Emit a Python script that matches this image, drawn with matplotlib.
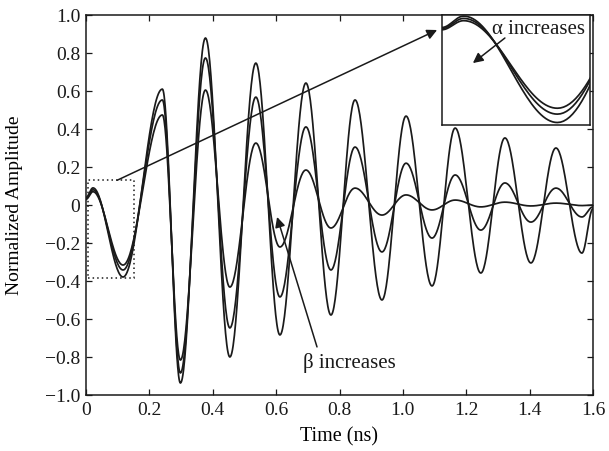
import numpy as np
import matplotlib
matplotlib.use("Agg")
import matplotlib.pyplot as plt
from matplotlib.patches import Rectangle

plt.rcParams['font.family'] = ['Liberation Serif', 'DejaVu Serif']

# Extremum times (ns), with start and end points
t_ext = [0.0, 0.022, 0.117, 0.241, 0.298, 0.377, 0.454, 0.536, 0.612, 0.694,
         0.773, 0.849, 0.934, 1.010, 1.092, 1.165, 1.246, 1.322, 1.404,
         1.483, 1.565, 1.6]
# Amplitudes at those times for the three curves
amp_1 = [0.04, 0.09, -0.379, 0.61, -0.937, 0.879, -0.80, 0.747, -0.684, 0.642,
         -0.579, 0.553, -0.50, 0.468, -0.426, 0.405, -0.358, 0.353, -0.305,
         0.30, -0.253, -0.02]
amp_2 = [0.035, 0.08, -0.342, 0.553, -0.884, 0.774, -0.647, 0.568, -0.484, 0.411,
         -0.342, 0.305, -0.247, 0.22, -0.174, 0.158, -0.132, 0.116, -0.09,
         0.089, -0.063, -0.01]
amp_3 = [0.03, 0.07, -0.316, 0.474, -0.816, 0.605, -0.432, 0.326, -0.221, 0.184,
         -0.121, 0.089, -0.053, 0.053, -0.026, 0.026, -0.01, 0.015, -0.005,
         0.01, -0.003, 0.0]

x_ticks = [0, 0.2, 0.4, 0.6, 0.8, 1.0, 1.2, 1.4, 1.6]
x_tick_labels = ["0", "0.2", "0.4", "0.6", "0.8", "1.0", "1.2", "1.4", "1.6"]
y_ticks = [-1.0, -0.8, -0.6, -0.4, -0.2, 0, 0.2, 0.4, 0.6, 0.8, 1.0]
y_tick_labels = ["\u22121.0", "\u22120.8", "\u22120.6", "\u22120.4", "\u22120.2", "0",
                 "0.2", "0.4", "0.6", "0.8", "1.0"]


def smooth_through(tk, yk, n=40):
    """Draw a smooth line through extrema using half-cosine segments."""
    xs, ys = [], []
    for i in range(len(tk) - 1):
        s = np.linspace(0, 1, n, endpoint=False)
        w = (1 - np.cos(np.pi * s)) / 2
        xs.append(tk[i] + (tk[i + 1] - tk[i]) * s)
        ys.append(yk[i] + (yk[i + 1] - yk[i]) * w)
    xs.append([tk[-1]])
    ys.append([yk[-1]])
    return np.concatenate(xs), np.concatenate(ys)


fig = plt.figure(figsize=(6.09, 4.51), dpi=100)
ax = fig.add_axes([86 / 609, 1 - 395 / 451, 507 / 609, 380 / 451])

col = '#1a1a1a'
curves = [smooth_through(t_ext, a) for a in (amp_1, amp_2, amp_3)]
for xs, ys in curves:
    ax.plot(xs, ys, color=col, lw=1.25)

ax.set_xlim(0, 1.6)
ax.set_ylim(-1.0, 1.0)
ax.set_xticks(x_ticks)
ax.set_xticklabels(x_tick_labels)
ax.set_yticks(y_ticks)
ax.set_yticklabels(y_tick_labels)
ax.tick_params(direction='in', top=True, right=True, length=4.5, width=0.9,
               labelsize=14, colors='#1a1a1a')
ax.tick_params(axis='x', pad=5)
ax.tick_params(axis='y', pad=4)
for sp in ax.spines.values():
    sp.set_linewidth(1.1)
    sp.set_color('#1a1a1a')
ax.set_xlabel("Time (ns)", fontsize=14.5)
ax.set_ylabel("Normalized Amplitude", fontsize=14)
ax.xaxis.set_label_coords(0.5, -0.085)
ax.yaxis.set_label_coords(-0.124, 0.5)

# dotted zoom box
ax.add_patch(Rectangle((0.005, -0.385), 0.145, 0.515, fill=False,
                       linestyle=(0, (1, 2)), lw=1.1, edgecolor=col))

# arrow to inset
ax.annotate("", xy=(1.108, 0.921), xytext=(0.098, 0.13),
            arrowprops=dict(arrowstyle='-|>', color=col, lw=1.1,
                            mutation_scale=15, shrinkA=0, shrinkB=0))

# beta annotation
ax.annotate("", xy=(0.603, -0.063), xytext=(0.729, -0.747),
            arrowprops=dict(arrowstyle='-|>', color=col, lw=1.1,
                            mutation_scale=15, shrinkA=0, shrinkB=0))
ax.text(0.685, -0.83, "\u03b2 increases", fontsize=15, ha='left',
        va='center', color=col)

# inset
ins = ax.inset_axes([0.702, 0.7105, 0.292, 0.2895])
for xs, ys in curves:
    ins.plot(xs, ys, color=col, lw=1.25)
ins.set_xlim(0.0, 0.15)
ins.set_ylim(-0.39, 0.095)
ins.set_xticks([])
ins.set_yticks([])
for sp in ins.spines.values():
    sp.set_linewidth(1.1)
    sp.set_color('#1a1a1a')
ins.text(1.281, 0.925, "\u03b1 increases", fontsize=15, ha='left',
         va='center', color=col, transform=ax.transData)
ins.annotate("", xy=(1.221, 0.747), xytext=(1.322, 0.879),
             xycoords=ax.transData, textcoords=ax.transData,
             arrowprops=dict(arrowstyle='-|>', color=col, lw=1.1,
                             mutation_scale=15, shrinkA=0, shrinkB=0),
             annotation_clip=False)

fig.savefig("out.png", dpi=100)
